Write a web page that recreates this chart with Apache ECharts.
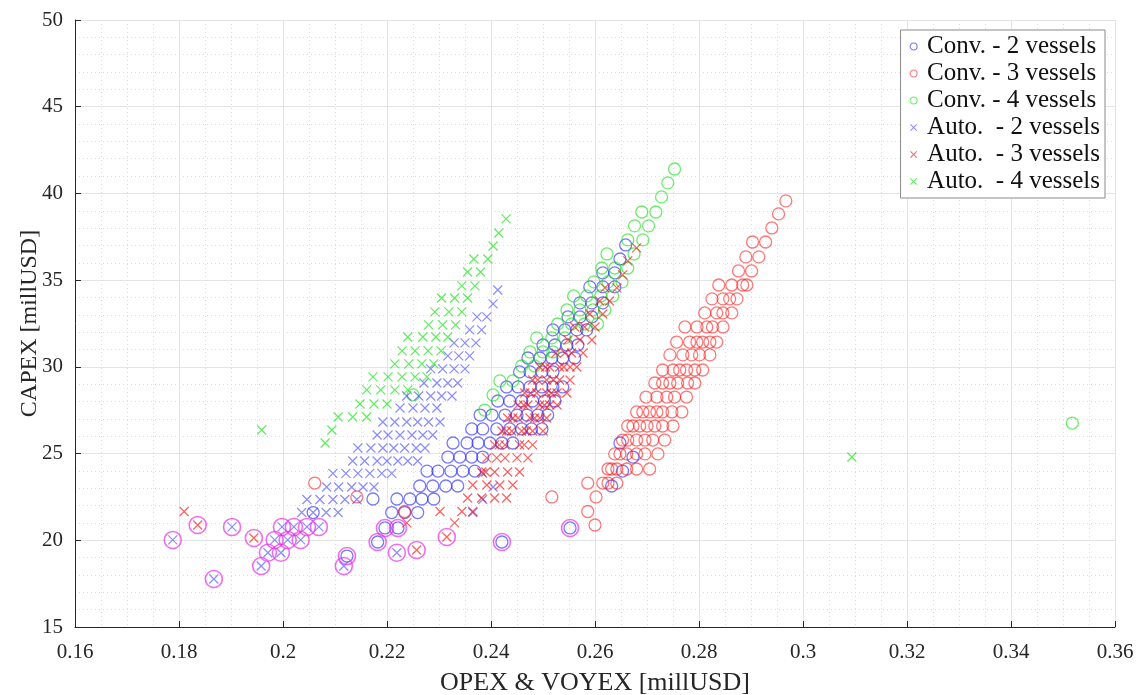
<!DOCTYPE html>
<html>
<head>
<meta charset="utf-8">
<script src="https://cdn.jsdelivr.net/npm/echarts@6/dist/echarts.min.js"></script>
<style>
  html, body { margin: 0; padding: 0; background: #ffffff; }
  #chart { width: 1146px; height: 695px; }
</style>
</head>
<body>
<div id="chart"></div>
<script>
// Rows of [CAPEX, [OPEX & VOYEX values...]] for each fleet configuration.
const convTwo = [
  [37.03, [0.2659]],
  [36.22, [0.2648]],
  [35.42, [0.2615, 0.2638]],
  [34.61, [0.2590, 0.2615, 0.2638]],
  [33.69, [0.2571, 0.2594, 0.2615]],
  [32.88, [0.2548, 0.2571, 0.2594]],
  [32.13, [0.2519, 0.2542, 0.2565, 0.2584]],
  [31.26, [0.2500, 0.2523, 0.2546, 0.2567]],
  [30.51, [0.2471, 0.2494, 0.2517, 0.2538, 0.2561]],
  [29.71, [0.2455, 0.2475, 0.2498, 0.2519]],
  [28.84, [0.2430, 0.2452, 0.2475, 0.2498, 0.2519, 0.2538]],
  [28.03, [0.2413, 0.2436, 0.2459, 0.2480, 0.2503, 0.2523]],
  [27.22, [0.2379, 0.2402, 0.2427, 0.2450, 0.2469, 0.2490, 0.2509]],
  [26.42, [0.2363, 0.2384, 0.2411, 0.2436, 0.2459, 0.2478, 0.2498]],
  [25.61, [0.2327, 0.2354, 0.2375, 0.2398, 0.2421, 0.2442, 0.2648]],
  [24.80, [0.2317, 0.2340, 0.2363, 0.2384, 0.2673]],
  [23.99, [0.2277, 0.2298, 0.2323, 0.2346, 0.2369, 0.2653]],
  [23.13, [0.2263, 0.2288, 0.2313, 0.2336, 0.2632]],
  [22.38, [0.2173, 0.2219, 0.2244, 0.2267, 0.2290]],
  [21.60, [0.2058, 0.2209, 0.2234, 0.2259]],
  [20.71, [0.2196, 0.2221, 0.2552]],
  [19.90, [0.2182, 0.2421]],
  [19.09, [0.2123]]
];

const convThree = [
  [39.57, [0.2967]],
  [38.82, [0.2953]],
  [38.01, [0.2940]],
  [37.20, [0.2903, 0.2928]],
  [36.34, [0.2890, 0.2915]],
  [35.53, [0.2876, 0.2901]],
  [34.72, [0.2838, 0.2863, 0.2884, 0.2892]],
  [33.92, [0.2825, 0.2846, 0.2859, 0.2873]],
  [33.11, [0.2811, 0.2834, 0.2846, 0.2863]],
  [32.30, [0.2773, 0.2796, 0.2815, 0.2826, 0.2846]],
  [31.43, [0.2757, 0.2782, 0.2796, 0.2807, 0.2821, 0.2834]],
  [30.69, [0.2744, 0.2769, 0.2786, 0.2801, 0.2821]],
  [29.82, [0.2730, 0.2750, 0.2763, 0.2776, 0.2792, 0.2807]],
  [29.07, [0.2715, 0.2730, 0.2744, 0.2759, 0.2778, 0.2792]],
  [28.26, [0.2698, 0.2719, 0.2738, 0.2753, 0.2776]],
  [27.40, [0.2680, 0.2692, 0.2705, 0.2719, 0.2730, 0.2748, 0.2767]],
  [26.59, [0.2663, 0.2673, 0.2686, 0.2700, 0.2715, 0.2730, 0.2750]],
  [25.78, [0.2653, 0.2663, 0.2680, 0.2696, 0.2711, 0.2734]],
  [24.98, [0.2638, 0.2648, 0.2661, 0.2680, 0.2696, 0.2721]],
  [24.11, [0.2625, 0.2632, 0.2642, 0.2661, 0.2680, 0.2705]],
  [23.30, [0.2061, 0.2586, 0.2615, 0.2625, 0.2642]],
  [22.50, [0.2142, 0.2517, 0.2602]],
  [21.66, [0.2234, 0.2586]],
  [20.88, [0.2600]]
];

const convFour = [
  [41.41, [0.2753]],
  [40.61, [0.2740]],
  [39.80, [0.2728]],
  [38.93, [0.2690, 0.2717]],
  [38.13, [0.2676, 0.2703]],
  [37.32, [0.2663, 0.2692]],
  [36.51, [0.2623, 0.2675]],
  [35.70, [0.2613, 0.2638, 0.2663]],
  [34.90, [0.2598, 0.2625, 0.2652]],
  [34.09, [0.2559, 0.2584, 0.2611, 0.2634]],
  [33.28, [0.2546, 0.2571, 0.2596, 0.2619]],
  [32.47, [0.2528, 0.2555, 0.2580, 0.2605]],
  [31.67, [0.2488, 0.2517, 0.2542]],
  [30.86, [0.2475, 0.2500, 0.2519]],
  [30.05, [0.2459, 0.2484]],
  [29.19, [0.2417, 0.2442]],
  [28.38, [0.2250, 0.2404]],
  [27.51, [0.2388]],
  [26.76, [0.3518]]
];

const autoTwo = [
  [34.43, [0.2413]],
  [33.63, [0.2404]],
  [32.88, [0.2373, 0.2392]],
  [32.13, [0.2359, 0.2382]],
  [31.38, [0.2329, 0.2350, 0.2371]],
  [30.63, [0.2317, 0.2338, 0.2359]],
  [29.88, [0.2284, 0.2307, 0.2329, 0.2350]],
  [29.07, [0.2271, 0.2296, 0.2317, 0.2336]],
  [28.32, [0.2238, 0.2261, 0.2284, 0.2305, 0.2325]],
  [27.63, [0.2225, 0.2250, 0.2273, 0.2296]],
  [26.82, [0.2192, 0.2215, 0.2238, 0.2259, 0.2280, 0.2302]],
  [26.07, [0.2181, 0.2202, 0.2225, 0.2248, 0.2269, 0.2288]],
  [25.32, [0.2144, 0.2169, 0.2192, 0.2213, 0.2234, 0.2256, 0.2273]],
  [24.57, [0.2134, 0.2157, 0.2181, 0.2200, 0.2221, 0.2240, 0.2259]],
  [23.86, [0.2096, 0.2121, 0.2144, 0.2167, 0.2190, 0.2209, 0.2384]],
  [23.07, [0.2084, 0.2107, 0.2132, 0.2154, 0.2175, 0.2404]],
  [22.35, [0.2046, 0.2071, 0.2096, 0.2119, 0.2142, 0.2384]],
  [21.60, [0.2036, 0.2058, 0.2083, 0.2106, 0.2365]],
  [20.77, [0.1902, 0.1998, 0.2021, 0.2046, 0.2069]],
  [20.02, [0.1788, 0.1984, 0.2009, 0.2034]],
  [19.28, [0.1971, 0.1996, 0.2219]],
  [18.52, [0.1958, 0.2117]],
  [17.77, [0.1867]]
];

const autoThree = [
  [36.86, [0.2680]],
  [36.11, [0.2663]],
  [35.30, [0.2653]],
  [34.55, [0.2619, 0.2642]],
  [33.80, [0.2609, 0.2628]],
  [33.05, [0.2590, 0.2615]],
  [32.30, [0.2561, 0.2580, 0.2600]],
  [31.55, [0.2548, 0.2571, 0.2594]],
  [30.80, [0.2525, 0.2542, 0.2555, 0.2577]],
  [29.99, [0.2494, 0.2505, 0.2513, 0.2532, 0.2540, 0.2552, 0.2565]],
  [29.24, [0.2480, 0.2490, 0.2507, 0.2520, 0.2532, 0.2552]],
  [28.49, [0.2465, 0.2476, 0.2488, 0.2507, 0.2516, 0.2527, 0.2546]],
  [27.80, [0.2452, 0.2463, 0.2471, 0.2494, 0.2503, 0.2513, 0.2527]],
  [27.05, [0.2432, 0.2442, 0.2452, 0.2475, 0.2484, 0.2494, 0.2507]],
  [26.30, [0.2421, 0.2430, 0.2440, 0.2459, 0.2468, 0.2480, 0.2500]],
  [25.50, [0.2407, 0.2416, 0.2427, 0.2455, 0.2464, 0.2480]],
  [24.75, [0.2392, 0.2411, 0.2427, 0.2450, 0.2471]],
  [23.94, [0.2382, 0.2390, 0.2407, 0.2432, 0.2455]],
  [23.19, [0.2365, 0.2392, 0.2417, 0.2442]],
  [22.44, [0.2355, 0.2382, 0.2407, 0.2430]],
  [21.66, [0.1810, 0.2302, 0.2344, 0.2365]],
  [21.00, [0.2238, 0.2330]],
  [20.88, [0.1836]],
  [20.19, [0.2315]],
  [20.13, [0.1944]],
  [19.44, [0.2257]]
];

const autoFour = [
  [38.53, [0.2429]],
  [37.72, [0.2415]],
  [36.97, [0.2404]],
  [36.22, [0.2367, 0.2394]],
  [35.47, [0.2355, 0.2380]],
  [34.67, [0.2344, 0.2369]],
  [33.97, [0.2305, 0.2330, 0.2355]],
  [33.17, [0.2292, 0.2319, 0.2344]],
  [32.42, [0.2280, 0.2307, 0.2332]],
  [31.72, [0.2240, 0.2269, 0.2294, 0.2317]],
  [30.92, [0.2229, 0.2254, 0.2279, 0.2304]],
  [30.17, [0.2215, 0.2242, 0.2267, 0.2290]],
  [29.42, [0.2173, 0.2202, 0.2229, 0.2254, 0.2277]],
  [28.67, [0.2161, 0.2188, 0.2215, 0.2240]],
  [27.86, [0.2148, 0.2175, 0.2200]],
  [27.11, [0.2106, 0.2134, 0.2161]],
  [26.36, [0.1959, 0.2094]],
  [25.61, [0.2081]],
  [24.80, [0.3094]]
];

// Non-dominated designs, ringed in magenta.
const paretoFront = [
  [0.1788, 20.02], [0.1836, 20.88], [0.1867, 17.77], [0.1902, 20.77],
  [0.1944, 20.13], [0.1958, 18.52], [0.1971, 19.28], [0.1984, 20.02],
  [0.1996, 19.28], [0.1998, 20.77], [0.2009, 20.02], [0.2021, 20.77],
  [0.2034, 20.02], [0.2046, 20.77], [0.2069, 20.77], [0.2117, 18.52],
  [0.2123, 19.09], [0.2182, 19.90], [0.2196, 20.71], [0.2221, 20.71],
  [0.2219, 19.28], [0.2257, 19.44], [0.2315, 20.19], [0.2421, 19.90],
  [0.2552, 20.71]
];

const seriesNames = [
  'Conv. - 2 vessels', 'Conv. - 3 vessels', 'Conv. - 4 vessels',
  'Auto.  - 2 vessels', 'Auto.  - 3 vessels', 'Auto.  - 4 vessels'
];

const xAxisRange = { min: 0.16, max: 0.36, step: 0.02 };
const yAxisRange = { min: 15, max: 50, step: 5 };

function flatten(rows) {
  const out = [];
  rows.forEach(([capex, opexList]) => opexList.forEach(o => out.push([o, capex])));
  return out;
}

const BLUE = 'rgba(20,20,255,0.72)';
const RED = 'rgba(255,20,20,0.72)';
const GREEN = 'rgba(20,225,20,0.78)';
const BLUE_X = 'rgba(50,50,255,0.7)';
const RED_X = 'rgba(250,15,15,0.82)';
const GREEN_X = 'rgba(15,225,15,0.82)';
// Stroked cross for the plot marks, filled cross outline for the legend keys.
const CROSS = 'path://M0,0L10,10M10,0L0,10';
const CROSS_KEY = 'path://M0,1L1,0L5,4L9,0L10,1L6,5L10,9L9,10L5,6L1,10L0,9L4,5Z';
const FONT = 'Liberation Serif';

function ringSeries(name, rows, color) {
  return {
    name, type: 'scatter', data: flatten(rows),
    symbol: 'circle', symbolSize: 12,
    itemStyle: { color: 'rgba(0,0,0,0)', borderColor: color, borderWidth: 1.3 },
    emphasis: { disabled: true }
  };
}
function crossSeries(name, rows, color) {
  return {
    name, type: 'scatter', data: flatten(rows),
    symbol: CROSS, symbolSize: 9,
    itemStyle: { color: 'rgba(0,0,0,0)', borderColor: color, borderWidth: 1.2 },
    emphasis: { disabled: true }
  };
}

const chart = echarts.init(document.getElementById('chart'), null, { renderer: 'canvas' });

const axisText = { fontFamily: FONT, fontSize: 21, color: '#262626' };

chart.setOption({
  animation: false,
  backgroundColor: '#ffffff',
  grid: { left: 75, right: 31, top: 20, bottom: 68, containLabel: false, outerBoundsMode: 'none' },
  legend: {
    orient: 'vertical', right: 41, top: 30,
    backgroundColor: '#ffffff', borderColor: '#8a8a8a', borderWidth: 1,
    padding: [4, 5, 4, 9], itemGap: 2, itemWidth: 7, itemHeight: 7,
    textStyle: { fontFamily: FONT, fontSize: 25, lineHeight: 25, color: '#111111', padding: [0, 0, 0, 5] },
    data: [
      { name: seriesNames[0], icon: 'circle', itemStyle: { color: 'rgba(0,0,0,0)', borderColor: BLUE, borderWidth: 1.1 } },
      { name: seriesNames[1], icon: 'circle', itemStyle: { color: 'rgba(0,0,0,0)', borderColor: RED, borderWidth: 1.1 } },
      { name: seriesNames[2], icon: 'circle', itemStyle: { color: 'rgba(0,0,0,0)', borderColor: GREEN, borderWidth: 1.1 } },
      { name: seriesNames[3], icon: CROSS_KEY, itemStyle: { color: BLUE_X, borderWidth: 0 } },
      { name: seriesNames[4], icon: CROSS_KEY, itemStyle: { color: RED_X, borderWidth: 0 } },
      { name: seriesNames[5], icon: CROSS_KEY, itemStyle: { color: GREEN_X, borderWidth: 0 } }
    ]
  },
  xAxis: {
    type: 'value', min: xAxisRange.min, max: xAxisRange.max, interval: xAxisRange.step,
    name: 'OPEX & VOYEX [millUSD]', nameLocation: 'middle', nameGap: 43, nameMoveOverlap: false,
    nameTextStyle: { fontFamily: FONT, fontSize: 26, color: '#262626' },
    axisLine: { show: true, onZero: false, lineStyle: { color: '#262626', width: 1 } },
    axisTick: { show: true, inside: true, length: 6, lineStyle: { color: '#262626' } },
    axisLabel: Object.assign({ margin: 15, formatter: v => String(+v.toFixed(2)) }, axisText),
    splitLine: { show: true, lineStyle: { color: '#e4e4e4', width: 1 } },
    minorTick: { show: false, splitNumber: 4 },
    minorSplitLine: { show: true, lineStyle: { color: '#dcdcdc', width: 1, type: [1, 3] } }
  },
  yAxis: {
    type: 'value', min: yAxisRange.min, max: yAxisRange.max, interval: yAxisRange.step,
    name: 'CAPEX [millUSD]', nameLocation: 'middle', nameGap: 33, nameMoveOverlap: false,
    nameTextStyle: { fontFamily: FONT, fontSize: 24, color: '#262626' },
    axisLine: { show: true, onZero: false, lineStyle: { color: '#262626', width: 1 } },
    axisTick: { show: true, inside: true, length: 6, lineStyle: { color: '#262626' } },
    axisLabel: Object.assign({ margin: 12 }, axisText),
    splitLine: { show: true, lineStyle: { color: '#e4e4e4', width: 1 } },
    minorTick: { show: false, splitNumber: 5 },
    minorSplitLine: { show: true, lineStyle: { color: '#dcdcdc', width: 1, type: [1, 3] } }
  },
  series: [
    ringSeries(seriesNames[0], convTwo, BLUE),
    ringSeries(seriesNames[1], convThree, RED),
    ringSeries(seriesNames[2], convFour, GREEN),
    crossSeries(seriesNames[3], autoTwo, BLUE_X),
    crossSeries(seriesNames[4], autoThree, RED_X),
    crossSeries(seriesNames[5], autoFour, GREEN_X),
    {
      name: 'Pareto', type: 'scatter', data: paretoFront,
      symbol: 'circle', symbolSize: 17,
      itemStyle: { color: 'rgba(0,0,0,0)', borderColor: 'rgba(235,40,235,0.85)', borderWidth: 1.6 },
      emphasis: { disabled: true }
    }
  ]
});
</script>
</body>
</html>
